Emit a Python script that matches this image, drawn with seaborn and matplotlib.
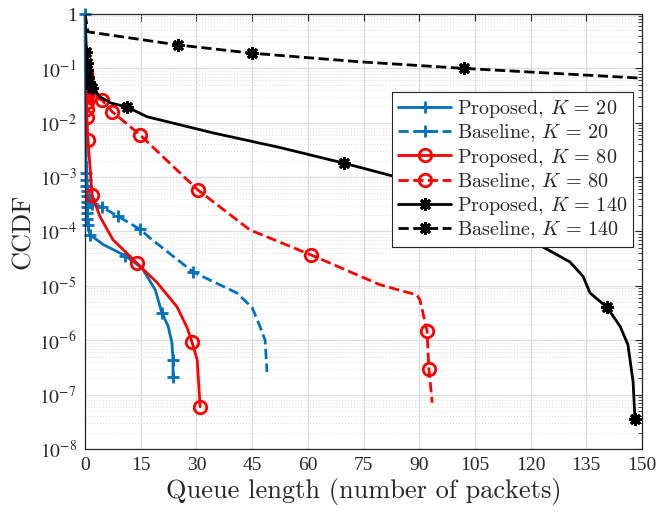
import numpy as np
import pandas as pd
import matplotlib
matplotlib.use('Agg')
import matplotlib.pyplot as plt
import seaborn as sns

# ---- data (queue length, CCDF) ----
prop20_x = [0, 0.3, 0.3, 0.35, 0.4, 0.4, 0.45, 0.5, 0.5, 0.6, 0.8, 1.3, 5.0, 10.8,
            15.4, 18.9, 20.7, 22.4, 23.4, 23.7, 23.7]
prop20_y = [1, 1.2e-3, 9e-4, 7e-4, 5.5e-4, 4.5e-4, 3.5e-4, 2.8e-4, 2.2e-4, 1.7e-4,
            1.3e-4, 8.7e-5, 5.7e-5, 3.6e-5, 2.1e-5, 8.5e-6, 3.2e-6, 1.8e-6, 9e-7,
            4.4e-7, 2.1e-7]
prop20_mk = [0, 1, 2, 3, 4, 5, 6, 7, 8, 9, 10, 11, 13, 16, 19, 20]

base20_x = [0, 0.3, 0.6, 1.0, 2.0, 4.6, 8.9, 14.8, 17.5, 29.1, 40.9, 45.0, 47.1, 48.5, 49.0]
base20_y = [1, 3.2e-3, 6.3e-4, 4e-4, 3.2e-4, 2.8e-4, 1.9e-4, 1.1e-4, 7.6e-5, 1.8e-5,
            7.4e-6, 4e-6, 1.8e-6, 1e-6, 2.6e-7]
base20_mk = [3, 4, 5, 6, 7, 9]

prop80_x = [0.2, 0.25, 0.3, 0.35, 0.4, 0.45, 0.5, 0.8, 1.9, 4.0, 7.5, 14.0, 19.4,
            24.8, 27.5, 28.8, 30.2, 31.0]
prop80_y = [0.076, 0.056, 0.042, 0.032, 0.024, 0.018, 0.013, 4.8e-3, 4.7e-4, 1.9e-4,
            7.1e-5, 2.6e-5, 1.15e-5, 4.1e-6, 1.7e-6, 9.3e-7, 4.4e-7, 6e-8]
prop80_mk = [0, 1, 2, 3, 4, 5, 6, 7, 8, 11, 15, 17]

base80_x = [0.2, 0.3, 0.4, 0.6, 0.9, 1.5, 3.0, 4.6, 7.3, 14.8, 30.4, 44.4, 60.9,
            79.4, 89.4, 90.2, 92.1, 92.6, 93.5]
base80_y = [0.079, 0.063, 0.05, 0.04, 0.035, 0.032, 0.029, 0.026, 0.016, 6e-3,
            5.8e-4, 1.07e-4, 3.7e-5, 1.05e-5, 6.8e-6, 5.5e-6, 1.5e-6, 3e-7, 7.1e-8]
base80_mk = [0, 1, 2, 3, 4, 5, 7, 8, 9, 10, 12, 16, 17]

prop140_x = [0, 0.3, 0.3, 0.4, 0.6, 0.8, 1.2, 1.8, 4.0, 7.0, 11.3, 16.7, 34.5, 52.5,
             69.8, 84.0, 100, 110, 118, 123.3, 130.6, 134.1, 136.0, 140.6, 144.1,
             146.2, 147.6, 148.1]
prop140_y = [1, 0.28, 0.2, 0.126, 0.093, 0.069, 0.056, 0.044, 0.03, 0.023, 0.0195,
             0.0129, 6.5e-3, 3.5e-3, 1.8e-3, 1e-3, 4.5e-4, 2.2e-4, 1.1e-4, 5.2e-5,
             2.75e-5, 1.5e-5, 7.4e-6, 4e-6, 1.8e-6, 8.3e-7, 1.7e-7, 3.5e-8]
prop140_mk = [2, 3, 4, 5, 6, 7, 10, 14, 23, 27]

base140_x = [0, 0.8, 25, 45, 74.1, 102, 150]
base140_y = [1, 0.47, 0.27, 0.19, 0.132, 0.10, 0.066]
base140_mk = [2, 3, 5]

x_ticks = [0, 15, 30, 45, 60, 75, 90, 105, 120, 135, 150]
y_ticks = [1e-8, 1e-7, 1e-6, 1e-5, 1e-4, 1e-3, 1e-2, 1e-1, 1]
y_labels = [r'$10^{-8}$', r'$10^{-7}$', r'$10^{-6}$', r'$10^{-5}$', r'$10^{-4}$',
            r'$10^{-3}$', r'$10^{-2}$', r'$10^{-1}$', '1']

BLUE = '#0072BD'
RED = '#FF0000'
BLACK = '#000000'
STAR = (8, 2, 0)

series = [
    (r'Proposed, $K\,=\,20$', prop20_x, prop20_y, prop20_mk, BLUE, '-', '+'),
    (r'Baseline, $K\,=\,20$', base20_x, base20_y, base20_mk, BLUE, '--', '+'),
    (r'Proposed, $K\,=\,80$', prop80_x, prop80_y, prop80_mk, RED, '-', 'o'),
    (r'Baseline, $K\,=\,80$', base80_x, base80_y, base80_mk, RED, '--', 'o'),
    (r'Proposed, $K\,=\,140$', prop140_x, prop140_y, prop140_mk, BLACK, '-', STAR),
    (r'Baseline, $K\,=\,140$', base140_x, base140_y, base140_mk, BLACK, '--', STAR),
]

sns.set_style('white')
plt.rcParams['font.family'] = ['Liberation Serif', 'DejaVu Serif']
plt.rcParams['mathtext.fontset'] = 'stix'

fig = plt.figure(figsize=(6.56, 5.13), dpi=100)
ax = fig.add_axes([0.1296, 0.1248, 0.8491, 0.8479])

for label, xs, ys, mk, col, ls, marker in series:
    df = pd.DataFrame({'x': xs, 'y': ys})
    kw = dict(color=col, linestyle=ls, linewidth=2.0, marker=marker, markevery=mk,
              markersize=9, markeredgewidth=2.0, markerfacecolor='none',
              markeredgecolor=col)
    if ls == '--':
        kw['dashes'] = (4, 2.5)
    sns.lineplot(data=df, x='x', y='y', ax=ax, estimator=None, sort=False,
                 label=label, **kw)

# the K=20 curve starts exactly on the top-left corner; let its marker show
ax.get_lines()[0].set_clip_on(False)

ax.set_yscale('log')
ax.set_xlim(0, 150)
ax.set_ylim(1e-8, 1)
ax.set_xticks(x_ticks)
ax.set_xticklabels([str(t) for t in x_ticks])
ax.set_yticks(y_ticks)
ax.set_yticklabels(y_labels)
ax.yaxis.set_minor_locator(matplotlib.ticker.LogLocator(base=10, subs=np.arange(2, 10), numticks=20))
ax.yaxis.set_minor_formatter(matplotlib.ticker.NullFormatter())

ax.grid(True, which='major', color='#dedede', linewidth=0.9, linestyle='-')
ax.grid(True, which='minor', axis='y', color='#d0d0d0', linewidth=0.6, linestyle=(0, (1, 2.5)))
ax.set_axisbelow(True)

ax.tick_params(which='both', direction='in', top=True, right=True, labelsize=14,
               color='#262626', labelcolor='#262626')
ax.tick_params(which='major', length=5, width=0.8, pad=6)
ax.tick_params(which='minor', length=3, width=0.6)
for s in ax.spines.values():
    s.set_color('#262626')
    s.set_linewidth(0.9)

ax.set_xlabel('Queue length (number of packets)', fontsize=19, family='cmr10',
              labelpad=3, color='#262626')
ax.set_ylabel('CCDF', fontsize=19, family='cmr10', labelpad=3, color='#262626')

leg = ax.legend(loc='upper right', bbox_to_anchor=(0.984, 0.821), frameon=True,
                fancybox=False, framealpha=1, edgecolor='#262626', handlelength=2.6,
                handletextpad=0.3, borderpad=0.3, labelspacing=0.12, borderaxespad=0,
                prop={'family': 'cmr10', 'size': 14.5, 'math_fontfamily': 'cm'})
leg.get_frame().set_linewidth(0.8)

plt.savefig('out.png', dpi=100)
